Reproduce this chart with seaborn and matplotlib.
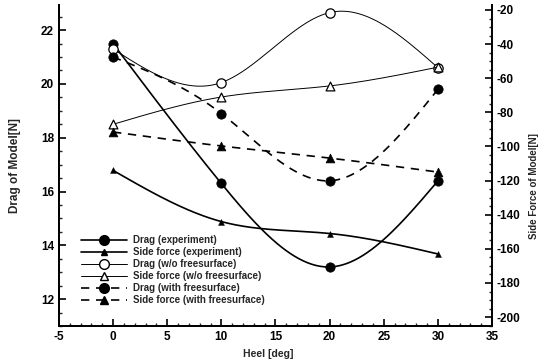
import numpy as np
import pandas as pd
import matplotlib
matplotlib.use("Agg")
import matplotlib.pyplot as plt
from matplotlib.lines import Line2D
from matplotlib.ticker import MultipleLocator
import seaborn as sns

heel = [0, 10, 20, 30]
drag_exp = [21.5, 16.3, 13.2, 16.4]
side_exp = [-114, -144, -151, -163]
drag_wo = [21.3, 20.05, 22.65, 20.6]
side_wo = [-87, -71, -64.5, -53.5]
drag_fs = [21.0, 18.9, 16.4, 19.8]
side_fs = [-91.5, -99.7, -106.8, -115]

labels = ["Drag (experiment)", "Side force (experiment)",
          "Drag (w/o freesurface)", "Side force (w/o freesurface)",
          "Drag (with freesurface)", "Side force (with freesurface)"]


def natural_spline(x, y, xx):
    x = np.asarray(x, float); y = np.asarray(y, float)
    n = len(x); h = np.diff(x)
    A = np.zeros((n, n)); r = np.zeros(n)
    A[0, 0] = A[-1, -1] = 1
    for i in range(1, n - 1):
        A[i, i - 1] = h[i - 1]; A[i, i] = 2 * (h[i - 1] + h[i]); A[i, i + 1] = h[i]
        r[i] = 6 * ((y[i + 1] - y[i]) / h[i] - (y[i] - y[i - 1]) / h[i - 1])
    M = np.linalg.solve(A, r)
    idx = np.clip(np.searchsorted(x, xx) - 1, 0, n - 2)
    x0 = x[idx]; x1 = x[idx + 1]; hh = h[idx]
    return (M[idx] * (x1 - xx) ** 3 / (6 * hh) + M[idx + 1] * (xx - x0) ** 3 / (6 * hh)
            + (y[idx] / hh - M[idx] * hh / 6) * (x1 - xx)
            + (y[idx + 1] / hh - M[idx + 1] * hh / 6) * (xx - x0))


sns.set_style("ticks")
plt.rcParams['font.family'] = ['Liberation Sans Narrow', 'Liberation Sans', 'DejaVu Sans']
plt.rcParams['font.weight'] = 'bold'
plt.rcParams['axes.unicode_minus'] = False

fig = plt.figure(figsize=(5.45, 3.6), dpi=100)
ax1 = fig.add_axes([0.108, 0.094, 0.795, 0.892])
ax2 = ax1.twinx()

xx = np.linspace(0, 30, 300)

styles = [
    (ax1, drag_exp, dict(ls='-', lw=1.2), dict(marker='o', s=45, color='k', edgecolor='k')),
    (ax2, side_exp, dict(ls='-', lw=1.2), dict(marker='^', s=18, color='k', edgecolor='k')),
    (ax1, drag_wo, dict(ls='-', lw=0.7), dict(marker='o', s=45, facecolor='white', edgecolor='k', linewidth=0.9)),
    (ax2, side_wo, dict(ls='-', lw=0.7), dict(marker='^', s=40, facecolor='white', edgecolor='k', linewidth=0.9)),
    (ax1, drag_fs, dict(ls=(0, (5, 4)), lw=1.2), dict(marker='o', s=45, color='k', edgecolor='k')),
    (ax2, side_fs, dict(ls=(0, (5, 4)), lw=1.2), dict(marker='^', s=40, color='k', edgecolor='k')),
]

for ax, vals, lkw, mkw in styles:
    yy = natural_spline(heel, vals, xx)
    sns.lineplot(x=xx, y=yy, ax=ax, color='k', legend=False, sort=False, **lkw)
    sns.scatterplot(x=heel, y=vals, ax=ax, legend=False, zorder=5, **mkw)

ax1.set_xlim(-5, 35)
ax1.set_ylim(11, 22.93)
ax2.set_ylim(-205.3, -17.1)

ax1.xaxis.set_major_locator(MultipleLocator(5))
ax1.xaxis.set_minor_locator(MultipleLocator(1))
ax1.yaxis.set_major_locator(MultipleLocator(2))
ax1.yaxis.set_minor_locator(MultipleLocator(0.5))
ax2.yaxis.set_major_locator(MultipleLocator(20))
ax2.yaxis.set_minor_locator(MultipleLocator(5))

for ax in (ax1, ax2):
    ax.tick_params(which='major', direction='in', length=5, width=1.2, labelsize=8.5, colors='k')
    ax.tick_params(which='minor', direction='in', length=2.5, width=1)
    for s in ax.spines.values():
        s.set_linewidth(1.4)
        s.set_color('k')
ax1.spines['top'].set_visible(False)
ax2.spines['top'].set_visible(False)
ax1.spines['right'].set_visible(False)

ax1.set_xlabel("Heel [deg]", fontsize=7.5, fontweight='bold')
ax1.xaxis.set_label_coords(0.483, -0.072)
ax1.set_ylabel("Drag of Model[N]", fontsize=8.5, fontweight='bold')
ax1.yaxis.set_label_coords(-0.088, 0.5)
ax2.set_ylabel("Side Force of Model[N]", fontsize=7, fontweight='bold')
ax2.yaxis.set_label_coords(1.085, 0.436)

handles = [
    Line2D([], [], color='k', ls='-', lw=1.2, marker='o', ms=7),
    Line2D([], [], color='k', ls='-', lw=1.2, marker='^', ms=4),
    Line2D([], [], color='k', ls='-', lw=0.7, marker='o', ms=7, mfc='white'),
    Line2D([], [], color='k', ls='-', lw=0.7, marker='^', ms=6, mfc='white'),
    Line2D([], [], color='k', ls=(0, (5, 4)), lw=1.2, marker='o', ms=7),
    Line2D([], [], color='k', ls=(0, (5, 4)), lw=1.2, marker='^', ms=6),
]
leg = ax1.legend(handles, labels, loc='lower left', bbox_to_anchor=(0.035, 0.045),
                 frameon=False, fontsize=7, handlelength=4.7, labelspacing=0.2,
                 handletextpad=0.7, borderpad=0.2)
for t in leg.get_texts():
    t.set_fontweight('bold')

fig.savefig("out.png", dpi=100)
